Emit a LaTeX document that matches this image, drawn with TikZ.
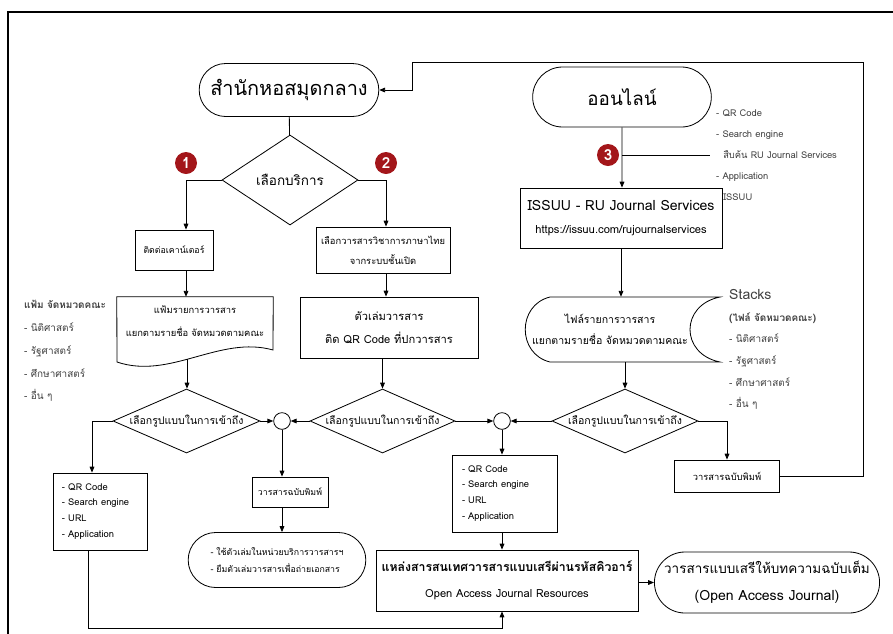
\documentclass[tikz,border=0pt]{standalone}
\usepackage{fontspec}
\setmainfont[Script=Thai]{Loma}
\usetikzlibrary{shapes.geometric,shapes.misc,arrows.meta}
\definecolor{badgered}{HTML}{A3161A}
\definecolor{listgray}{gray}{0.25}

\begin{document}
\begin{tikzpicture}[x=0.03cm,y=-0.03cm,
  every node/.style={font=\fontsize{8}{10}\selectfont},
  conn/.style={line width=0.7pt},
  arr/.style={conn,-{Triangle[length=5pt,width=4pt]}},
  procbox/.style={draw,line width=0.7pt,align=center,inner sep=1pt},
  term/.style={draw,rounded rectangle,line width=0.7pt,align=center,inner sep=1pt},
  choice/.style={draw,diamond,line width=0.7pt,inner sep=0pt},
  badge/.style={circle,fill=badgered,text=white,inner sep=0pt,minimum size=0.66cm,font=\bfseries\fontsize{13}{13}\selectfont},
  joint/.style={draw,circle,line width=0.7pt,inner sep=0pt,minimum size=0.5cm},
  sidelist/.style={align=left,anchor=north west,inner sep=0pt,text=listgray}]

\useasboundingbox (0,0) rectangle (893,633);
% outer frame, runs off the page at right and bottom
\draw[line width=1.6pt] (8,640) -- (8,12) -- (900,12);

% start points
\node[term,minimum width=5.46cm,minimum height=1.59cm,font=\fontsize{17}{20}\selectfont] (lib) at (289,90) {สำนักหอสมุดกลาง};
\node[term,minimum width=5.43cm,minimum height=1.8cm,font=\fontsize{16}{20}\selectfont] (online) at (622,97) {ออนไลน์};
\node[choice,minimum width=4.08cm,minimum height=2.7cm,label={[font=\fontsize{11.5}{13}\selectfont]center:เลือกบริการ}] (svc) at (290,180) {};
\node[badge] (b1) at (186,163) {1};
\node[badge] (b2) at (386,163) {2};
\node[badge] (b3) at (608,155) {3};

% second row
\node[procbox,minimum width=2.34cm,minimum height=1.2cm,font=\fontsize{7.5}{10}\selectfont] (counter) at (174,250) {ติดต่อเคาน์เตอร์};
\node[procbox,minimum width=4.02cm,minimum height=1.38cm,font=\fontsize{8}{17}\selectfont] (choose) at (383,250) {เลือกวารสารวิชาการภาษาไทย\\จากระบบชั้นเปิด};
\node[procbox,minimum width=6.06cm,minimum height=1.8cm,font=\fontsize{9.5}{19}\selectfont] (issuu) at (621,218) {{\fontsize{12}{14}\selectfont ISSUU - RU Journal Services}\\https://issuu.com/rujournalservices};

% third row: document, printed copy, stored file
\node[align=center,minimum width=4.68cm,minimum height=1.44cm,font=\fontsize{8}{19.5}\selectfont] (fold) at (195,321) {แฟ้มรายการวารสาร\\แยกตามรายชื่อ จัดหมวดตามคณะ};
\draw[conn] (fold.north west) -- (117,362) .. controls (170,380) and (220,335) .. (273,350) -- (fold.north east) -- cycle;
\coordinate (fold-tip) at (187,359);
\node[procbox,minimum width=5.34cm,minimum height=1.83cm,font=\fontsize{9.5}{20}\selectfont] (copy) at (389,327.5) {ตัวเล่มวารสาร\\ติด QR Code ที่ปกวารสาร};
\node[align=center,minimum width=5.1cm,minimum height=1.95cm,font=\fontsize{9}{18}\selectfont] (files) at (610,329.5) {ไฟล์รายการวารสาร\\แยกตามรายชื่อ จัดหมวดตามคณะ};
\draw[conn] (550,297) -- (720,297) .. controls (680,305) and (680,354) .. (720,362) -- (550,362) .. controls (517,354) and (517,305) .. (550,297) -- cycle;

% side notes
\node[sidelist,font=\fontsize{8.5}{19.5}\selectfont] (facl) at (24,300) {\textbf{แฟ้ม จัดหมวดคณะ}\\- นิติศาสตร์\\- รัฐศาสตร์\\- ศึกษาศาสตร์\\- อื่น ๆ};
\node[sidelist,font=\fontsize{8.5}{18.5}\selectfont] (stk) at (729,289) {{\fontsize{12}{14}\selectfont Stacks}\\\textbf{(ไฟล์ จัดหมวดคณะ)}\\- นิติศาสตร์\\- รัฐศาสตร์\\- ศึกษาศาสตร์\\- อื่น ๆ};
\node[sidelist,font=\fontsize{8}{17.8}\selectfont] (acc) at (716,110) {- QR Code\\- Search engine\\\hspace{6pt}สืบค้น RU Journal Services\\- Application\\\hspace{6pt}ISSUU};
\coordinate (acc-end) at (710,155);

% access choices
\node[choice,minimum width=4.41cm,minimum height=1.92cm,label={[font=\fontsize{9}{11}\selectfont]center:เลือกรูปแบบในการเข้าถึง}] (ld) at (186.5,421) {};
\node[joint] (j1) at (282,421) {};
\node[choice,minimum width=4.35cm,minimum height=1.92cm,label={[font=\fontsize{9}{11}\selectfont]center:เลือกรูปแบบในการเข้าถึง}] (md) at (382.5,421) {};
\node[joint] (j2) at (502,421) {};
\node[choice,minimum width=4.38cm,minimum height=1.92cm,label={[font=\fontsize{9}{11}\selectfont]center:เลือกรูปแบบในการเข้าถึง}] (rd) at (625,421) {};

% results
\node[procbox,minimum width=2.82cm,minimum height=2.31cm,text width=2.28cm,align=left,font=\fontsize{8}{13.6}\selectfont] (qrl) at (100,511.5) {- QR Code\\- Search engine\\- URL\\- Application};
\node[procbox,minimum width=2.28cm,minimum height=0.9cm,font=\fontsize{7.5}{10}\selectfont] (print1) at (290,492) {วารสารฉบับพิมพ์};
\node[procbox,minimum width=3.15cm,minimum height=2.31cm,text width=2.55cm,align=left,font=\fontsize{8}{13.6}\selectfont] (qrm) at (504.5,493.5) {- QR Code\\- Search engine\\- URL\\- Application};
\node[procbox,minimum width=3.15cm,minimum height=0.96cm] (print2) at (727,476) {วารสารฉบับพิมพ์};
\node[term,minimum width=5.4cm,minimum height=1.65cm,align=left,font=\fontsize{7.5}{14}\selectfont] (use) at (277,560) {- ใช้ตัวเล่มในหน่วยบริการวารสารฯ\\- ยืมตัวเล่มวารสารเพื่อถ่ายเอกสาร};
\node[procbox,minimum width=7.86cm,minimum height=1.83cm,font=\fontsize{9.5}{22}\selectfont] (oar) at (507,580.5) {{\bfseries\fontsize{10.5}{12}\selectfont แหล่งสารสนเทศวารสารแบบเสรีผ่านรหัสคิวอาร์}\\Open Access Journal Resources};
\node[term,minimum width=6.3cm,minimum height=1.83cm,font=\fontsize{11.5}{23}\selectfont] (oaj) at (767,582.5) {วารสารแบบเสรีให้บทความฉบับเต็ม\\{\fontsize{12}{14}\selectfont (Open Access Journal)}};

% connectors
\draw[conn] (lib) -- (svc);
\draw[arr] (svc.west) -| (counter.north -| b1);
\draw[arr] (svc.east) -| (choose.north -| b2);
\draw[arr] (counter.south -| b1) -- (fold.north -| b1);
\draw[arr] (choose.south -| b2) -- (copy.north -| b2);
\draw[arr] (fold-tip) -- (fold-tip |- ld.north);
\draw[arr] (copy.south -| md) -- (md.north);
\draw[arr] (online) -- (online |- issuu.north);
\draw[conn] (online |- b3) -- (acc-end);
\draw[arr] (issuu.south) -- (issuu.south |- files.north);
\draw[arr] (rd.north |- files.south) -- (rd.north);
\draw[arr] (ld.east) -- (j1);
\draw[arr] (md.west) -- (j1);
\draw[arr] (md.east) -- (j2);
\draw[arr] (rd.west) -- (j2);
\draw[arr] (rd.east) -| (print2.north);
\draw[arr] (ld.west) -| ([xshift=-0.24cm]qrl.north);
\draw[arr] (j1) -- (j1 |- print1.north);
\draw[arr] (print1.south -| j1) -- (j1 |- use.north);
\draw[arr] (j2) -- (j2 |- qrm.north);
\draw[arr] (qrm.south -| j2) -- (j2 |- oar.north);
\draw[arr] (oar.east |- oaj.west) -- (oaj.west);
\coordinate (loop) at (88,628);
\draw[arr] (qrl.south -| loop) -- (loop) -| ([xshift=-0.15cm]oar.south);
% printed copy leads back to the library
\coordinate (back-a) at (863,62);
\coordinate (back-b) at (412,62);
\draw[arr] (print2.east) -| (back-a) -- (back-b) |- (lib.east);
\end{tikzpicture}
\end{document}
